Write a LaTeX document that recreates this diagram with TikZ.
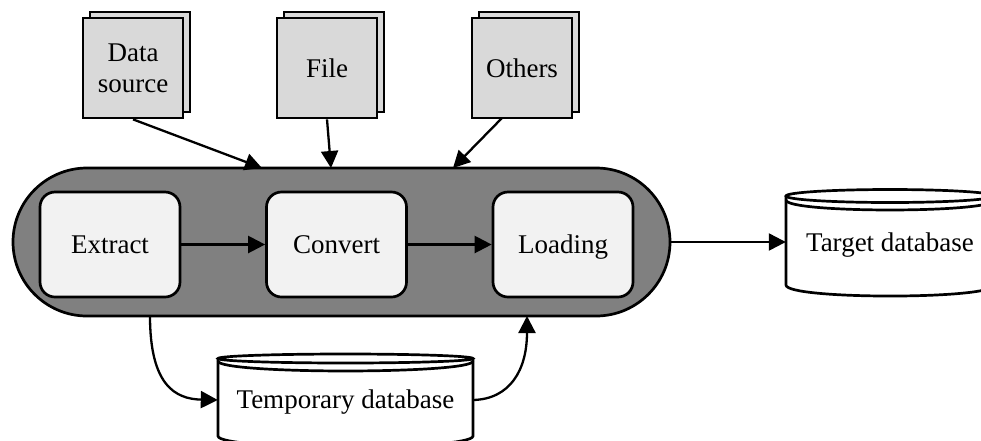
\documentclass[tikz,border=0pt]{standalone}
\usepackage{fontspec}
\setmainfont{Liberation Serif}
\usetikzlibrary{arrows.meta,shadows}

\definecolor{docgray}{HTML}{D9D9D9}
\definecolor{pillgray}{HTML}{808080}
\definecolor{stepfill}{HTML}{F2F2F2}

\begin{document}
\begin{tikzpicture}[x=1pt,y=-1pt,
  every node/.style={font=\fontsize{27}{31}\selectfont},
  doc/.style={draw, line width=2.7pt, fill=docgray, minimum width=100pt,
    minimum height=100pt, inner sep=0pt, align=center,
    general shadow={shadow xshift=7pt, shadow yshift=6pt, fill=docgray,
      draw=black, line width=2.7pt}},
  stage/.style={draw, line width=2.7pt, fill=stepfill, rounded corners=15pt,
    minimum width=140pt, minimum height=105pt, inner sep=0pt,
    text height=19pt, text depth=1.5pt},
  pill/.style={draw, line width=2.7pt, fill=pillgray, rounded corners=74pt,
    minimum width=657pt, minimum height=148pt, inner sep=0pt},
  dblabel/.style={inner sep=0pt, text height=19pt, text depth=2pt},
  dbline/.style={draw, line width=2.7pt, fill=white},
  flow/.style={line width=2.3pt, -{Triangle[length=17pt,width=17pt]}}
]
\useasboundingbox (0,0) rectangle (981,440);
\clip (0,0) rectangle (981,440);

% input sources
\node[doc] (ds)   at (133,68) {Data\\source};
\node[doc] (file) at (327,68) {File};
\node[doc] (oth)  at (522,68) {Others};

% ETL container and its stages
\node[pill] (etl) at (341.5,242) {};
\node[stage] (ext) at (110,244.5) {Extract};
\node[stage] (cnv) at (336.5,244.5) {Convert};
\node[stage] (lod) at (563,244.5) {Loading};

% target database cylinder
\fill[white] (890,196) ellipse [x radius=104pt, y radius=6.5pt];
\path[dbline] (786,196) -- (786,285) .. controls (786,299.7) and (994,299.7) .. (994,285) -- (994,196);
\draw[line width=2.7pt] (890,196) ellipse [x radius=104pt, y radius=6.5pt];
\draw[line width=2.7pt] (786,200) .. controls (786,213.3) and (994,213.3) .. (994,200);
\node[dblabel, minimum width=208pt] (tgt) at (890,243) {Target database};

% temporary database cylinder
\fill[white] (345.5,358.5) ellipse [x radius=127.5pt, y radius=4.5pt];
\path[dbline] (218,358.5) -- (218,436) .. controls (218,450.7) and (473,450.7) .. (473,436) -- (473,358.5);
\draw[line width=2.7pt] (345.5,358.5) ellipse [x radius=127.5pt, y radius=4.5pt];
\draw[line width=2.7pt] (218,361) .. controls (218,374.3) and (473,374.3) .. (473,361);
\node[dblabel, minimum width=255pt] (tmp) at (345.5,400) {Temporary database};

% connector end points on the container outline
\coordinate (inA) at (262,168);
\coordinate (inB) at (331,168);
\coordinate (inC) at (453,168);
\coordinate (outA) at (150,316);
\coordinate (inD) at (527,316);
\coordinate (othS) at (502,118);

% connectors
\draw[flow] (ds.south) -- (inA);
\draw[flow] (file.south) -- (inB);
\draw[flow] (othS) -- (inC);
\draw[flow] (ext.east) -- (cnv.west);
\draw[flow] (cnv.east) -- (lod.west);
\draw[flow] (etl.east) -- (etl.east -| tgt.west);
\draw[flow] (outA) .. controls (150,385) and (175,399) .. (tmp.west);
\draw[flow] (tmp.east) .. controls (510,399) and (527,370) .. (inD);
\end{tikzpicture}
\end{document}
